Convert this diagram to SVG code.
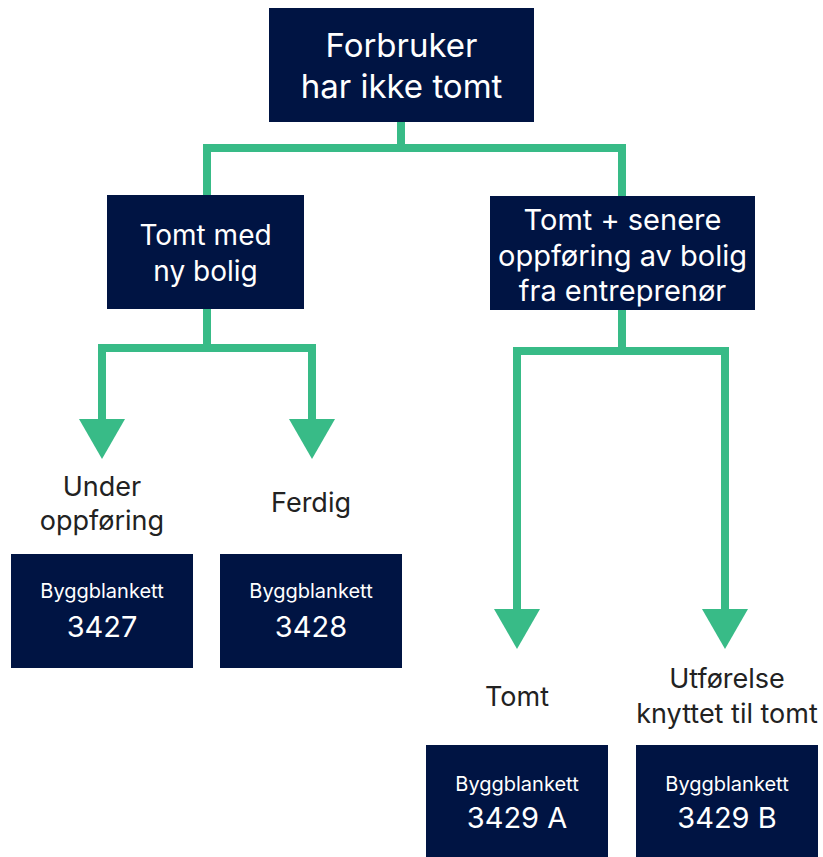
<svg xmlns="http://www.w3.org/2000/svg" width="823" height="857" viewBox="0 0 823 857">
<style>
.box{fill:#001443}
.t{font-family:Inter,"Liberation Sans",sans-serif;fill:#ffffff;text-anchor:middle}
.lbl{font-family:Inter,"Liberation Sans",sans-serif;fill:#222222;text-anchor:middle;font-size:27px}
.con{fill:none;stroke:#38bb87;stroke-width:8;stroke-linejoin:miter}
</style>
<defs>
<marker id="ah" viewBox="0 0 40 46" markerWidth="40" markerHeight="46" refX="0" refY="23" orient="auto" markerUnits="userSpaceOnUse">
<path d="M0,0 L40,23 L0,46 Z" fill="#38bb87"/>
</marker>
</defs>
<rect width="823" height="857" fill="#ffffff"/>
<g id="connectors">
<path class="con" d="M401,122 V148"/>
<path class="con" d="M207,195 V148 H622 V196"/>
<path class="con" d="M207,309 V348 H102 V419" marker-end="url(#ah)"/>
<path class="con" d="M207,348 H312 V419" marker-end="url(#ah)"/>
<path class="con" d="M622,310 V351 H517 V609" marker-end="url(#ah)"/>
<path class="con" d="M622,351 H725 V609" marker-end="url(#ah)"/>
</g>
<g id="root">
<rect class="box" x="269" y="8" width="265" height="114"/>
<text class="t" x="401.5" y="57" font-size="33">Forbruker</text>
<text class="t" x="401.5" y="98" font-size="33">har ikke tomt</text>
</g>
<g id="tomt-med-ny-bolig">
<rect class="box" x="107" y="195" width="197" height="114"/>
<text class="t" x="205.5" y="245" font-size="28">Tomt med</text>
<text class="t" x="205.5" y="281" font-size="28">ny bolig</text>
</g>
<g id="tomt-senere">
<rect class="box" x="490" y="196" width="265" height="114"/>
<text class="t" x="622.5" y="230" font-size="29">Tomt + senere</text>
<text class="t" x="622.5" y="266" font-size="29">oppføring av bolig</text>
<text class="t" x="622.5" y="301" font-size="29">fra entreprenør</text>
</g>
<g id="under-oppforing">
<text class="lbl" x="102" y="496">Under</text>
<text class="lbl" x="102" y="530">oppføring</text>
<rect class="box" x="11" y="554" width="182" height="114"/>
<text class="t" x="102" y="598" font-size="20">Byggblankett</text>
<text class="t" x="102" y="637" font-size="29">3427</text>
</g>
<g id="ferdig">
<text class="lbl" x="311" y="512">Ferdig</text>
<rect class="box" x="220" y="554" width="182" height="114"/>
<text class="t" x="311" y="598" font-size="20">Byggblankett</text>
<text class="t" x="311" y="637" font-size="29">3428</text>
</g>
<g id="tomt">
<text class="lbl" x="517" y="706">Tomt</text>
<rect class="box" x="426" y="745" width="182" height="114"/>
<text class="t" x="517" y="791" font-size="20">Byggblankett</text>
<text class="t" x="517" y="828" font-size="29">3429 A</text>
</g>
<g id="utforelse">
<text class="lbl" x="727" y="688">Utførelse</text>
<text class="lbl" x="727" y="723">knyttet til tomt</text>
<rect class="box" x="636" y="745" width="182" height="114"/>
<text class="t" x="727" y="791" font-size="20">Byggblankett</text>
<text class="t" x="727" y="828" font-size="29">3429 B</text>
</g>
</svg>
